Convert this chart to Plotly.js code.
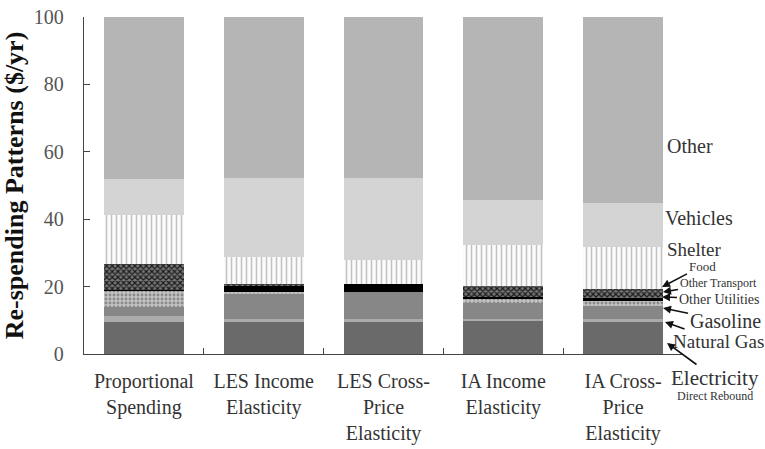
<!DOCTYPE html>
<html>
<head>
<meta charset="utf-8">
<script src="https://cdn.plot.ly/plotly-3.0.1.min.js"></script>
<style>html,body{margin:0;padding:0;background:#fff;}#chart{width:765px;height:449px;}</style>
</head>
<body>
<div id="chart"></div>
<script>
const categories = ["Proportional<br>Spending", "LES Income<br>Elasticity", "LES Cross-<br>Price<br>Elasticity", "IA Income<br>Elasticity", "IA Cross-<br>Price<br>Elasticity"];
const electricity    = [9.5, 9.5, 9.5, 9.8, 9.5];
const naturalGas     = [1.8, 0.9, 0.9, 0.7, 0.9];
const gasoline       = [2.7, 7.4, 8.0, 4.5, 3.9];
const otherUtilities = [4.7, 0.6, 0.0, 1.2, 1.5];
const otherTransport = [0.4, 1.8, 2.4, 0.6, 0.9];
const food           = [7.7, 0.6, 0.0, 3.3, 2.7];
const shelter        = [14.5, 8.0, 7.1, 12.3, 12.5];
const vehicles       = [10.7, 23.4, 24.3, 13.4, 13.0];
const other          = [48.0, 47.8, 47.8, 54.2, 55.1];

const serif = "Liberation Serif, Times New Roman, serif";

function bar(name, y, color, pattern) {
  const t = {type: "bar", name: name, x: categories, y: y,
    marker: {color: color, line: {width: 0}}, hoverinfo: "name+y"};
  if (pattern) t.marker.pattern = pattern;
  return t;
}

const data = [
  bar("Electricity", electricity, "#6a6a6a"),
  bar("Natural Gas", naturalGas, "#ababab"),
  bar("Gasoline", gasoline, "#878787"),
  bar("Other Utilities", otherUtilities, "#bdbdbd", {shape: ".", fgcolor: "#8a8a8a", bgcolor: "#c4c4c4", size: 4, solidity: 0.4}),
  bar("Other Transport", otherTransport, "#000000"),
  bar("Food", food, "#5a5a5a", {shape: "x", fgcolor: "#1a1a1a", bgcolor: "#777777", size: 4, solidity: 0.5}),
  bar("Shelter", shelter, "#fafafa", {shape: "|", fgcolor: "#c2c2c2", bgcolor: "#fbfbfb", size: 5, solidity: 0.3}),
  bar("Vehicles", vehicles, "#d4d4d4"),
  bar("Other", other, "#b5b5b5")
];

const txtColor = "#333333";
function label(text, px, py, size) {
  return {xref: "paper", yref: "paper", x: (px - 84) / 599, y: (354 - py) / 337, xanchor: "left", yanchor: "middle",
    text: text, showarrow: false, font: {family: serif, size: size, color: txtColor}};
}
function arrowLabel(text, tipPx, tipPy, ax, ay, size) {
  return {xref: "paper", yref: "paper", x: (tipPx - 84) / 599, y: (354 - tipPy) / 337, ax: ax, ay: ay,
    text: text, showarrow: true, arrowhead: 2, arrowsize: 1, arrowwidth: 1.6, arrowcolor: "#111",
    font: {family: serif, size: size, color: txtColor}};
}

const annotations = [
  label("Other", 665, 146, 20),
  label("Vehicles", 663, 218, 20),
  label("Shelter", 665, 249, 19),
  arrowLabel("Food", 662, 287, 40, -21, 13),
  arrowLabel("Other Transport", 663, 292, 55, -9, 12),
  arrowLabel("Other Utilities", 662, 297, 57, 2, 14),
  arrowLabel("Gasoline", 663, 308, 62, 13, 20),
  arrowLabel("Natural Gas", 665, 322, 53, 19, 19),
  arrowLabel("Electricity", 667, 343, 48, 35, 21),
  label("Direct Rebound", 675, 396, 12)
];

const layout = {
  width: 765, height: 449,
  margin: {l: 84, r: 82, t: 17, b: 95, pad: 0},
  paper_bgcolor: "#ffffff", plot_bgcolor: "#ffffff",
  barmode: "stack", bargap: 0.333,
  showlegend: false,
  font: {family: serif, color: txtColor},
  xaxis: {
    type: "category", showline: true, linecolor: "#444", linewidth: 1.2,
    ticks: "inside", ticklen: 6, tickcolor: "#444", tickson: "boundaries",
    showgrid: false, zeroline: false,
    tickfont: {family: serif, size: 20, color: txtColor},
    ticklabelstandoff: 9
  },
  yaxis: {
    range: [0, 100], tickvals: [0, 20, 40, 60, 80, 100],
    showline: true, linecolor: "#444", linewidth: 1.2,
    ticks: "inside", ticklen: 6, tickcolor: "#444",
    showgrid: false, zeroline: false,
    tickfont: {family: serif, size: 20, color: "#555"},
    ticklabelstandoff: 15,
    title: {text: "<b>Re-spending Patterns ($/yr)</b>", font: {family: serif, size: 26, color: "#111"}, standoff: 2}
  },
  annotations: annotations
};

Plotly.newPlot("chart", data, layout, {displayModeBar: false, staticPlot: true});
</script>
</body>
</html>
